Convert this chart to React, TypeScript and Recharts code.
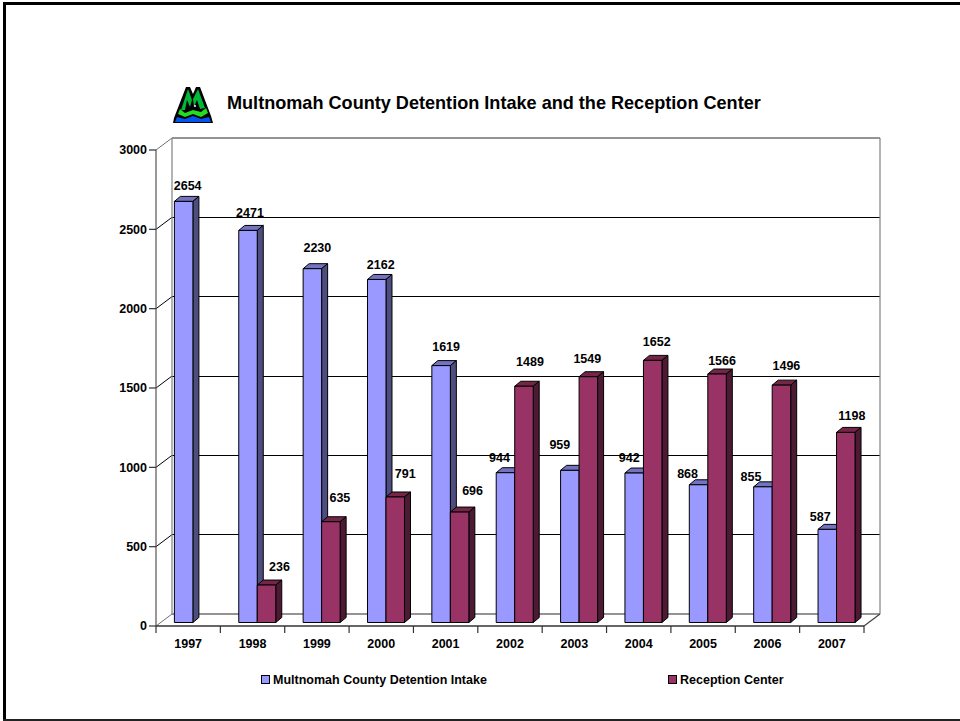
import React from "react";
import { BarChart, Bar, XAxis, YAxis, CartesianGrid, LabelList, Legend, usePlotArea } from "recharts";

const years = ["1997", "1998", "1999", "2000", "2001", "2002", "2003", "2004", "2005", "2006", "2007"];
const intake = [2654, 2471, 2230, 2162, 1619, 944, 959, 942, 868, 855, 587];
const reception = [null, 236, 635, 791, 696, 1489, 1549, 1652, 1566, 1496, 1198];
const yTicks = [0, 500, 1000, 1500, 2000, 2500, 3000];

const intakeName = "Multnomah County Detention Intake";
const receptionName = "Reception Center";
const titleText = "Multnomah County Detention Intake and the Reception Center";

const rows = years.map((year, i) => ({ year, intake: intake[i], reception: reception[i] }));

// hand-placed label nudges of the original slide (reception has no 1997 label)
const intakeNudgeX = [4, 2, 5, 4, 5, -6, -10, -5, -11, -12, -7];
const receptionNudgeX = [13, 9, 10, 13, 6, -1, 4, 5, 5, 6];
const intakeNudgeUp = [15, 17, 21, 14, 19, 14.5, 25, 15, 10.5, 9.6, 12];
const receptionNudgeUp = [18, 23.5, 23, 21, 24, 17.5, 18, 13, 19, 16];

const FONT = "'Liberation Sans', Arial, sans-serif";
const DX = 6;
const DY = 5;
const LIFT = 3.5;
const SHIFT = 4.4;
const WALL_X = 16;
const WALL_Y = 12;

function Box3D(props: any) {
  const { x: x0, y, width, height, front, side, top } = props;
  if (!height || height <= 0) return null;
  const x = x0 + SHIFT;
  const yy = y - LIFT;
  const r = x + width;
  const b = yy + height;
  return (
    <g stroke="#000" strokeWidth={1} strokeLinejoin="round">
      <polygon points={`${x},${yy} ${x + DX},${yy - DY} ${r + DX},${yy - DY} ${r},${yy}`} fill={top} />
      <polygon points={`${r},${yy} ${r + DX},${yy - DY} ${r + DX},${b - DY} ${r},${b}`} fill={side} />
      <rect x={x} y={yy} width={width} height={height} fill={front} />
    </g>
  );
}

function Walls() {
  const p = usePlotArea();
  if (!p) return null;
  const { x, y, width, height } = p;
  const bottom = y + height;
  return (
    <g fill="none" strokeWidth={1.2}>
      <line x1={x + WALL_X} y1={y - WALL_Y} x2={x + WALL_X} y2={bottom - WALL_Y} stroke="#808080" />
      <line x1={x + WALL_X + width} y1={y - WALL_Y} x2={x + WALL_X + width} y2={bottom - WALL_Y} stroke="#808080" />
      <line x1={x} y1={y} x2={x} y2={bottom} stroke="#555" />
      <line x1={x + width} y1={bottom} x2={x + width + WALL_X} y2={bottom - WALL_Y} stroke="#404040" />
    </g>
  );
}

function GridLine(props: any) {
  const { x1, x2, y1, y2, index } = props;
  const last = index === 0 || index === yTicks.length - 1;
  const stroke = last ? "#707070" : "#000";
  return (
    <g stroke={stroke} strokeWidth={last ? 1.5 : 1}>
      <line x1={x1} y1={y1} x2={x1 + WALL_X} y2={y1 - WALL_Y} strokeWidth={1} />
      <line x1={x1 + WALL_X} y1={y1 - WALL_Y} x2={x2 + WALL_X} y2={y2 - WALL_Y} shapeRendering={last ? undefined : "crispEdges"} />
    </g>
  );
}

function YearTick(props: any) {
  const { x, y, payload, index, width } = props;
  const half = width / years.length / 2;
  const stroke = { stroke: "#333", strokeWidth: 1.2 };
  return (
    <g>
      <line x1={x - half} y1={y} x2={x - half} y2={y + 7} {...stroke} />
      {index === years.length - 1 ? <line x1={x + half} y1={y} x2={x + half} y2={y + 7} {...stroke} /> : null}
      <text x={x} y={y + 22} textAnchor="middle" fontFamily={FONT} fontWeight="bold" fontSize={12.5} fill="#000">
        {payload.value}
      </text>
    </g>
  );
}

function valueLabel(nudgeX: number[], nudgeUp: number[]) {
  return function ValueLabel(props: any) {
    const { x, y, width, value, index } = props;
    if (value == null) return null;
    return (
      <text
        x={x + SHIFT + width / 2 + nudgeX[index]}
        y={y - nudgeUp[index] + 0.5}
        textAnchor="middle"
        fontFamily={FONT}
        fontWeight="bold"
        fontSize={12.5}
        fill="#000"
      >
        {value}
      </text>
    );
  };
}

function LegendBox(props: any) {
  const items = props.payload || [];
  const lefts = [261, 668];
  return (
    <div style={{ position: "relative", width: 960, height: 20 }}>
      {items.map((it: any, i: number) => (
        <div key={it.value} style={{ position: "absolute", left: lefts[i], top: 0, height: 20, whiteSpace: "nowrap", fontFamily: FONT, fontWeight: "bold", fontSize: 12.5, lineHeight: "20px", color: "#000" }}>
          <span style={{ position: "absolute", left: 0, top: 5, width: 7, height: 7, background: it.color, border: "1px solid #000" }} />
          <span style={{ position: "absolute", left: 12, top: 0 }}>{it.value}</span>
        </div>
      ))}
    </div>
  );
}

function Logo() {
  return (
    <svg width={40} height={38} viewBox="0 0 40 38" style={{ position: "absolute", left: 173, top: 86 }}>
      <polygon points="0,37 1,32 13,1 17,1 20,8 23,1 27,1 38,30 40,37" fill="#000" />
      <polygon points="15,3 19,14 17,21 14,14 12,24 8,24" fill="#00b83a" />
      <polygon points="25,3 32,22 27,23 24,14 21,21 20,13" fill="#00b83a" />
      <polygon points="7,23 12,27 20,24 28,26 33,22 35,27 28,31 20,28 12,31 5,28" fill="#22dd22" />
      <polygon points="2,36 4,31 12,33 20,30 28,33 36,31 38,36" fill="#0055ee" />
      <circle cx={22} cy={20} r={1} fill="#fff" />
    </svg>
  );
}

export default function App() {
  return (
    <div style={{ position: "fixed", left: 0, top: 0, width: 960, height: 721, background: "#fff", overflow: "hidden" }}>
      <div style={{ position: "absolute", left: 3, top: 2, width: 957, height: 3, background: "#000" }} />
      <div style={{ position: "absolute", left: 3, top: 2, width: 3, height: 719, background: "#000" }} />
      <div style={{ position: "absolute", left: 3, top: 719, width: 957, height: 2, background: "#222" }} />
      <Logo />
      <div style={{ position: "absolute", left: 227, top: 93, fontFamily: FONT, fontWeight: "bold", fontSize: 18.1, lineHeight: "20px", whiteSpace: "nowrap", color: "#000" }}>{titleText}</div>
      <div style={{ position: "absolute", left: 0, top: 0 }}>
        <BarChart
          width={960}
          height={721}
          data={rows}
          barSize={18.5}
          barGap={0}
          margin={{ top: 150, right: 96, bottom: 45, left: 106 }}
          style={{ background: "transparent" }}
        >
          <Walls />
          <CartesianGrid vertical={false} horizontal={(p: any) => <GridLine key={p.index} {...p} />} />
          <XAxis
            dataKey="year"
            height={30}
            axisLine={{ stroke: "#333", strokeWidth: 1.5 }}
            tickLine={false}
            tickSize={0}
            tickMargin={0}
            interval={0}
            tick={<YearTick />}
          />
          <YAxis
            width={50}
            domain={[0, 3000]}
            ticks={yTicks}
            axisLine={false}
            tickLine={{ stroke: "#333", strokeWidth: 1.2 }}
            tickSize={7}
            tickMargin={2}
            interval={0}
            tick={{ fontFamily: FONT, fontWeight: "bold", fontSize: 12.5, fill: "#000" }}
          />
          <Legend verticalAlign="bottom" align="left" content={<LegendBox />} wrapperStyle={{ left: 0, top: 670, width: 960, height: 20 }} />
          <Bar dataKey="intake" name={intakeName} fill="#9999FF" isAnimationActive={false}
            shape={(p: any) => <Box3D {...p} front="#9999FF" side="#4D4D80" top="#7373BF" />}>
            <LabelList dataKey="intake" content={valueLabel(intakeNudgeX, intakeNudgeUp)} />
          </Bar>
          <Bar dataKey="reception" name={receptionName} fill="#993366" isAnimationActive={false}
            shape={(p: any) => <Box3D {...p} front="#993366" side="#4D1A33" top="#732645" />}>
            <LabelList dataKey="reception" content={valueLabel(receptionNudgeX, receptionNudgeUp)} />
          </Bar>
        </BarChart>
      </div>
    </div>
  );
}
